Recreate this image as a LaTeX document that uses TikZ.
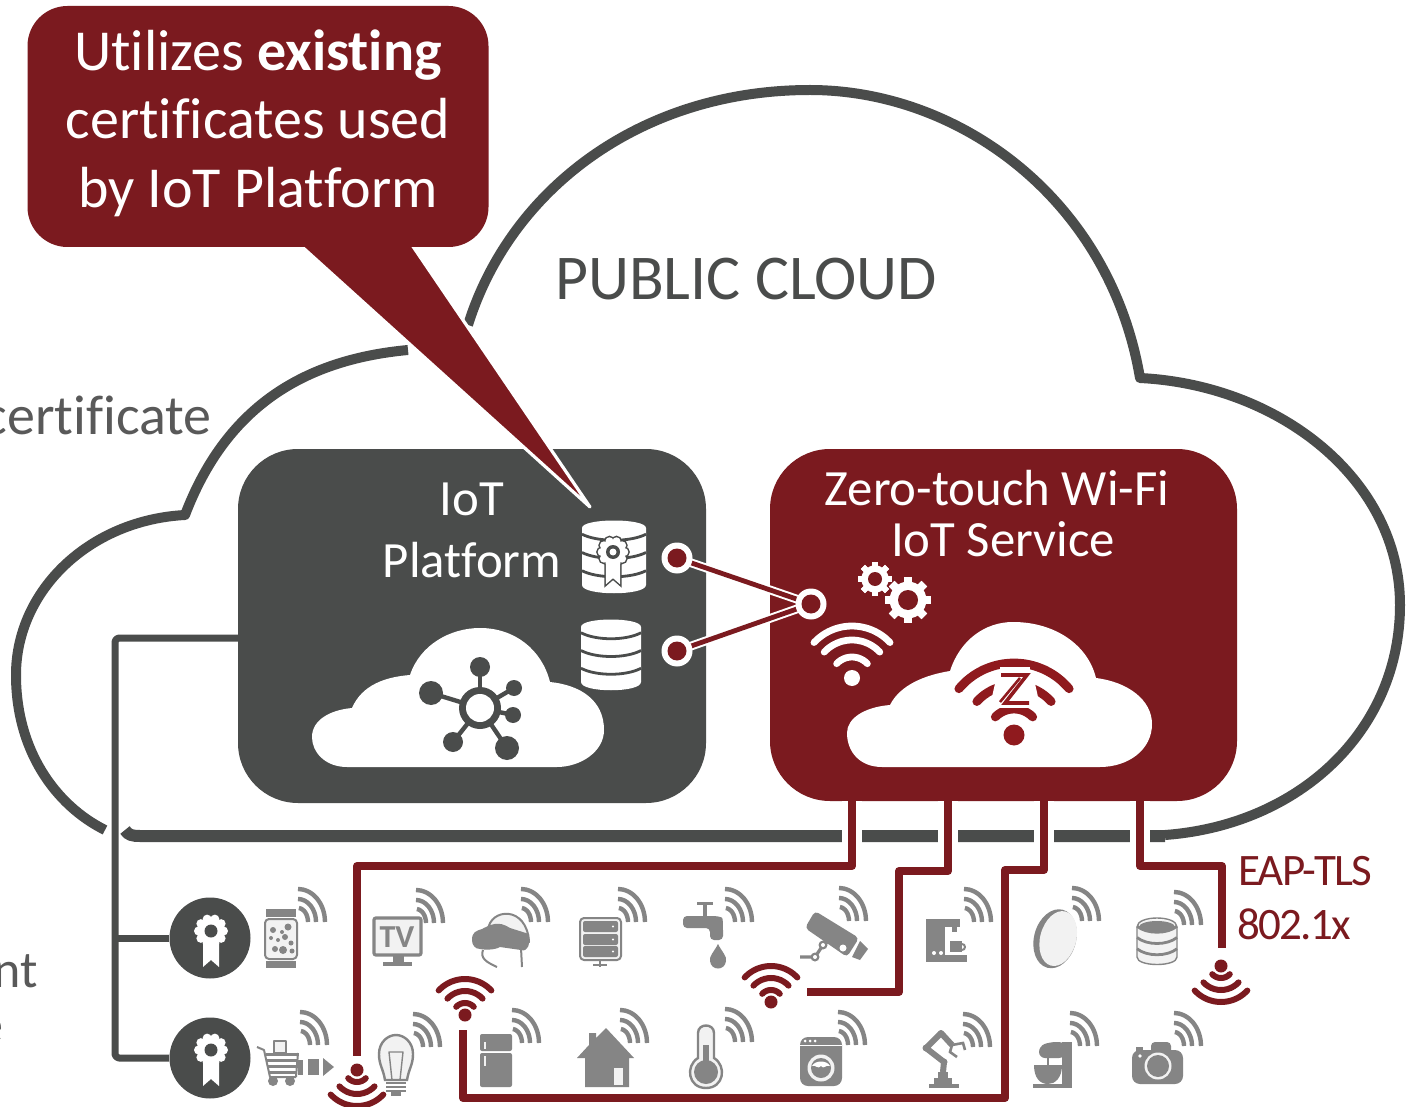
\documentclass[tikz,border=0pt]{standalone}
\usepackage{fontspec}
\setmainfont{Carlito}[Ligatures=NoCommon]
\definecolor{gdark}{HTML}{4A4C4B}
\definecolor{rdark}{HTML}{7B1A1F}
\definecolor{zred}{HTML}{8F1A1E}
\definecolor{ico}{HTML}{858585}
\definecolor{icol}{HTML}{F2F2F2}
\definecolor{ctext}{HTML}{595959}
\tikzset{
  cloudline/.style={draw=gdark,line width=5pt,line join=round},
  redwire/.style={draw=rdark,line width=4pt,line join=round},
  halo/.style={draw=white,line width=10pt},
  graywire/.style={draw=gdark,line width=3.5pt,line join=round},
  boxnode/.style={inner sep=0pt,outer sep=0pt,rounded corners=30pt,text width=0pt},
  whitetext/.style={text=white,inner sep=0pt,anchor=base,font=\fontsize{25.4}{25.4}\selectfont},
  calltext/.style={text=white,inner sep=0pt,anchor=base,font=\fontsize{29}{29}\selectfont},
  redlabel/.style={text=rdark,inner sep=0pt,anchor=base,font=\fontsize{22.5}{22.5}\selectfont\addfontfeatures{LetterSpace=-4}},
  graylabel/.style={text=ctext,inner sep=0pt,font=\fontsize{26}{26}\selectfont},
  sigline/.style={draw=ico,line width=2.2pt},
  iconline/.style={draw=ico,line width=1pt,line join=round},
}
% arc in pixel coordinates (y down)
\newcommand{\arcp}[6][]{\draw[#1] plot[smooth,samples=13,domain=#5:#6,variable=\ang] ({#2+#4*cos(\ang)},{#3+#4*sin(\ang)});}
% gray signal: left x, bottom y
\newcommand{\sigp}[2]{%
  \draw[sigline] plot[smooth,samples=9,domain=-90:0,variable=\ang] ({#1+27*cos(\ang)},{#2+33*sin(\ang)});
  \draw[sigline] plot[smooth,samples=9,domain=-90:0,variable=\ang] ({#1+18*cos(\ang)},{#2+23*sin(\ang)});
  \draw[sigline] plot[smooth,samples=9,domain=-85:0,variable=\ang] ({#1+10*cos(\ang)},{#2+14*sin(\ang)});}
% wifi: x,y,colour,dir,r1,r2,r3,dotr,width
\newcommand{\wifisym}[9]{%
  \fill[#3] (#1,#2) circle[radius=#8];
  \foreach \rr in {#5,#6,#7}{\arcp[draw=#3,line width=#9,line cap=round]{#1}{#2}{\rr}{#4-47}{#4+47}}}
% gear
\newcommand{\gearp}[7]{%
  \foreach \k in {1,...,#5}{\fill[#6,rotate around={\k*360/#5:(#1,#2)}] ({#1-#3*0.17},{#2-#3}) rectangle ({#1+#3*0.17},{#2+#3});}
  \fill[#6] (#1,#2) circle[radius={#3*0.8}];
  \fill[#7] (#1,#2) circle[radius=#4];}
% rosette with ribbon
\newcommand{\ribbonp}[4][]{%
  \begin{scope}[shift={(#2,#3)},scale=#4]
  \foreach \k in {0,36,...,324}{\path[#1] ({12.5*cos(\k)},{12.5*sin(\k)}) circle[radius=4.5];}
  \path[#1] (0,0) circle[radius=13];
  \path[#1] (-8,12) -- (8,12) -- (8,36) -- (0,29) -- (-8,36) -- cycle;
  \end{scope}}
% database
\newcommand{\dbp}[6]{%
  \fill[#5] ({#1-#3},{#2+8}) .. controls ({#1-#3},{#2-2}) and ({#1+#3},{#2-2}) .. ({#1+#3},{#2+8}) -- ({#1+#3},{#4-8}) .. controls ({#1+#3},{#4+3}) and ({#1-#3},{#4+3}) .. ({#1-#3},{#4-8}) -- cycle;
  \foreach \f in {0.25,0.5,0.75}{\draw[#6,line width=1.4pt] ({#1-#3},{#2+(#4-#2)*\f-4}) .. controls ({#1-#3*0.5},{#2+(#4-#2)*\f+4}) and ({#1+#3*0.5},{#2+(#4-#2)*\f+4}) .. ({#1+#3},{#2+(#4-#2)*\f-4});}}
\begin{document}
\begin{tikzpicture}[x=0.5pt,y=-0.5pt]
\useasboundingbox (0,0) rectangle (1409,1107);
\clip (0,0) rectangle (1409,1107);
\fill[white] (0,0) rectangle (1409,1107);

% ---- public cloud outline
\draw[cloudline] (1165,835) .. controls (1300,825) and (1400,730) .. (1400,605) .. controls (1400,480) and (1280,385) .. (1140,378) .. controls (1110,200) and (960,90) .. (810,90) .. controls (640,90) and (510,190) .. (468,325);
\draw[cloudline] (408,350) .. controls (300,360) and (225,410) .. (185,515) .. controls (90,520) and (16,590) .. (16,675) .. controls (16,750) and (55,805) .. (105,830);
\draw[cloudline,line width=6pt] (125,830) .. controls (128,835) and (132,836) .. (140,836) -- (1165,836);

\node[graylabel,anchor=base,text=gdark,font=\fontsize{31.9}{31.9}\selectfont] (publiccloud) at (746,300) {PUBLIC CLOUD};
\node[graylabel,anchor=base east,font=\fontsize{28}{28}\selectfont] (certificate) at (212,435) {certificate};
\node[graylabel,anchor=base east] (ntlabel) at (38,987) {nt};
\node[graylabel,anchor=base east] (elabel) at (4,1042) {e};

% ---- boxes
\node[boxnode,fill=gdark,minimum width=234pt,minimum height=177pt] (iotbox) at (472,626) {};
\node[boxnode,fill=rdark,minimum width=233.5pt,minimum height=176pt] (ztbox) at (1003.5,625) {};
\node[whitetext] (iot1) at (472,515) {IoT};
\node[whitetext] (iot2) at (472,577) {Platform};
\node[whitetext] (zt1) at (997,505) {Zero-touch Wi-Fi};
\node[whitetext] (zt2) at (1003,556) {IoT Service};

% ---- callout
\coordinate (tailL) at (300,245);
\coordinate (tailR) at (412,245);
\coordinate (tailTip) at (590,507);
\draw[draw=white,line width=1.6pt,line join=round,fill=rdark] (tailL) -- (tailTip) -- (tailR) -- cycle;
\node[boxnode,fill=rdark,minimum width=230.5pt,minimum height=120.5pt,rounded corners=20pt] (callout) at (258,126.5) {};
\node[calltext] (c1) at (258,71) {Utilizes \textbf{existing}};
\node[calltext] (c2) at (258,139) {certificates used};
\node[calltext] (c3) at (258,208) {by IoT Platform};

% ---- white clouds
\fill[white] (347,767) .. controls (325,767) and (312,752) .. (312,737) .. controls (312,720) and (330,710) .. (352,708) .. controls (362,685) and (385,677) .. (410,675) .. controls (420,645) and (450,628) .. (480,628) .. controls (515,628) and (542,650) .. (550,682) .. controls (580,685) and (604,700) .. (604,730) .. controls (604,752) and (580,767) .. (557,767) -- cycle;
\fill[white] (882,767) .. controls (860,767) and (847,752) .. (847,733) .. controls (847,718) and (865,707) .. (890,705) .. controls (900,685) and (925,675) .. (950,671) .. controls (960,640) and (985,622) .. (1013,622) .. controls (1055,622) and (1088,645) .. (1096,678) .. controls (1128,682) and (1152,700) .. (1152,724) .. controls (1152,750) and (1128,767) .. (1100,767) -- cycle;

% hub icon
\foreach \sx/\sy/\sr in {480/667/10,431/693/12,514/688/8,513/715/8,453/742/10,507/748/12}{
  \draw[gdark,line width=2.2pt] (480,708) -- (\sx,\sy);
  \fill[gdark] (\sx,\sy) circle[radius=\sr];}
\fill[gdark] (480,708) circle[radius=21];
\fill[white] (480,708) circle[radius=14];

% Z wifi
\foreach \rr/\ha in {72/50,50/48,26/46}{\arcp[draw=zred,line width=4.4pt,line cap=round]{1014}{735}{\rr}{270-\ha}{270+\ha}}
\fill[zred] (1014,735) circle[radius=10.5];
\fill[white] (1000,667) rectangle (1030,708);
\fill[white] (998,670) -- (1032,670) -- (1040,706) -- (990,706) -- cycle;
\draw[zred,line width=1.8pt,line join=miter] (1001,675) -- (1027,675) -- (1005,703) -- (1029,703);
\draw[zred,line width=1.3pt] (1020,678) -- (1000,702);

% gears and wifi in the service box
\gearp{875}{579}{17}{7}{8}{white}{rdark}
\gearp{908}{600}{23}{10}{8}{white}{rdark}
\wifisym{852}{678}{white}{270}{52}{38}{21}{8}{3.4pt}

% databases in the platform box
\dbp{614}{520}{32}{593}{white}{gdark}
\ribbonp[draw=gdark,fill=gdark,line width=1.5pt]{613}{552}{0.9}
\ribbonp[fill=white]{613}{552}{0.9}
\fill[gdark] (613,552) circle[radius=7];
\fill[white] (613,552) circle[radius=3.5];
\dbp{611}{619}{30}{690}{white}{gdark}

% ---- link between the services
\coordinate (dbA) at (677,558);
\coordinate (dbB) at (677,651);
\coordinate (wifiIn) at (811,604);
\draw[white,line width=4.4pt] (dbA) -- (wifiIn);
\draw[white,line width=4.4pt] (dbB) -- (wifiIn);
\draw[rdark,line width=2.4pt] (dbA) -- (wifiIn);
\draw[rdark,line width=2.4pt] (dbB) -- (wifiIn);
\fill[white] (dbA) circle[radius=15.5];
\fill[white] (dbB) circle[radius=15.5];
\fill[white] (wifiIn) circle[radius=15.5];
\fill[rdark] (dbA) circle[radius=9.5];
\fill[rdark] (dbB) circle[radius=9.5];
\fill[rdark] (wifiIn) circle[radius=9.5];

% ---- gray wires and badges
\coordinate (grayStart) at (238,638);
\coordinate (grayCorner) at (115,638);
\coordinate (grayMid) at (115,938);
\coordinate (grayEnd) at (115,1058);
\node[circle,fill=gdark,minimum size=40.5pt,inner sep=0pt] (badgeA) at (210,938) {};
\node[circle,fill=gdark,minimum size=40.5pt,inner sep=0pt] (badgeB) at (210,1058) {};
\draw[graywire,rounded corners=2pt] (grayStart) -- (grayCorner) -- (grayEnd) -- (badgeB);
\draw[graywire] (grayMid) -- (badgeA);
\ribbonp[fill=white]{211}{931}{1}
\fill[gdark] (211,931) circle[radius=6.5];
\ribbonp[fill=white]{211}{1050}{1}
\fill[gdark] (211,1050) circle[radius=6.5];

% ---- red wires
\coordinate (r1a) at (852,801); \coordinate (r1b) at (852,866); \coordinate (r1c) at (357,866); \coordinate (r1d) at (357,1056);
\coordinate (r2a) at (948,801); \coordinate (r2b) at (948,871); \coordinate (r2c) at (899,871); \coordinate (r2d) at (899,992); \coordinate (r2e) at (807,992);
\coordinate (r3a) at (1044,801); \coordinate (r3b) at (1044,870); \coordinate (r3c) at (1005,870); \coordinate (r3d) at (1005,1098); \coordinate (r3e) at (463,1098); \coordinate (r3f) at (463,1030);
\coordinate (r4a) at (1140,801); \coordinate (r4b) at (1140,866); \coordinate (r4c) at (1222,866); \coordinate (r4d) at (1222,948);
\foreach \cc in {r1,r2,r3,r4}{\draw[halo] (\cc a) -- (\cc b);}
\draw[redwire] (r1a) -- (r1b) -- (r1c) -- (r1d);
\draw[redwire] (r2a) -- (r2b) -- (r2c) -- (r2d) -- (r2e);
\draw[redwire] (r3a) -- (r3b) -- (r3c) -- (r3d) -- (r3e) -- (r3f);
\draw[redwire] (r4a) -- (r4b) -- (r4c) -- (r4d);
\node[redlabel] (eap) at (1305,885) {EAP-TLS};
\node[redlabel] (dotx) at (1294,939) {802.1x};

\wifisym{465}{1015}{rdark}{270}{36}{24}{12}{6.5}{3pt}
\wifisym{771}{1002}{rdark}{270}{36}{24}{12}{6.5}{3pt}
\wifisym{357}{1070}{rdark}{90}{36}{24}{12}{6.5}{3pt}
\wifisym{1221}{966}{rdark}{90}{36}{24}{12}{6.5}{3pt}

% ---- signals
\foreach \sx/\sy in {298/922,416/923,521/922,618/922,725/922,839/921,964/922,1072/921,1174/925,
                     300/1045,413/1047,512/1043,620/1043,725/1042,838/1045,963/1047,1070/1046,1174/1046}{\sigp{\sx}{\sy}}

% watch
\fill[ico] (266,909) rectangle (296,917);
\fill[ico] (266,961) rectangle (296,968);
\draw[iconline,fill=icol,rounded corners=2pt] (265,919) rectangle (297,959);
\foreach \dx/\dy/\dr in {273/930/3,282/932/2,288/927/3.5,271/938/2,278/940/2,285/937/3,291/943/2.5,275/949/3,283/950/4,292/951/2.5}{\fill[ico] (\dx,\dy) circle[radius=\dr];}

% TV
\draw[draw=ico,line width=1.6pt,fill=icol,rounded corners=1pt] (374,918) rectangle (421,955);
\node[text=ico,inner sep=0pt,font=\fontsize{16}{16}\selectfont\bfseries] (tv) at (397,937) {TV};
\fill[ico] (393,955) rectangle (404,963);
\fill[ico] (383,962) rectangle (412,966);

% VR
\draw[iconline,fill=icol] (488,930) .. controls (490,908) and (527,905) .. (529,942) -- (500,942) -- cycle;
\fill[ico] (472,940) .. controls (472,932) and (476,931) .. (482,929) .. controls (490,925) and (498,920) .. (510,928) -- (529,934) .. controls (530,945) and (528,952) .. (521,950) -- (500,947) .. controls (495,950) and (485,950) .. (480,949) .. controls (475,949) and (472,945) .. (472,940) -- cycle;
\draw[iconline] (483,950) .. controls (480,958) and (486,962) .. (497,967);
\draw[iconline] (521,948) -- (522,967);

% server
\draw[iconline,fill=icol,rounded corners=2pt] (580,918) rectangle (621,960);
\foreach \yy in {921,934,946}{\fill[ico,rounded corners=1pt] (583,\yy) rectangle (618,{\yy+11}); \fill[white] (613,{\yy+5.5}) circle[radius=1.2];}
\draw[iconline] (600,960) -- (600,967);
\draw[iconline] (593,965) -- (607,965);

% faucet
\fill[ico] (703,905) rectangle (707,916);
\fill[ico] (697,902) rectangle (713,905);
\fill[ico,rounded corners=2pt] (683,928) -- (683,916) -- (718,916) .. controls (723,918) and (723,922) .. (723,940) -- (710,940) -- (710,928) -- cycle;
\fill[ico] (718,944) .. controls (714,952) and (709,956) .. (710,961) .. controls (711,971) and (725,971) .. (726,961) .. controls (727,956) and (722,952) .. (718,944) -- cycle;

% CCTV
\fill[ico,rounded corners=2pt] (815,911) -- (859,938) -- (847,957) -- (805,928) -- cycle;
\fill[ico] (860,941) -- (868,949) -- (860,960) -- (852,957) -- cycle;
\fill[white] (843,948) circle[radius=3.5];
\draw[ico,line width=1.6pt] (800,957) -- (815,957) -- (823,945) -- (830,940);
\fill[ico] (815,957) circle[radius=4.5];
\fill[ico] (823,945) circle[radius=4.5];
\fill[white] (815,957) circle[radius=2];
\fill[white] (823,945) circle[radius=2];

% coffee machine
\fill[ico] (926,919) rectangle (945,962);
\fill[ico] (926,919) rectangle (960,927);
\fill[ico] (926,955) rectangle (967,962);
\fill[ico] (952,925) rectangle (957,932);
\fill[ico] (950,941) rectangle (962,952);
\draw[iconline] (962,944) arc[start angle=-90,end angle=90,radius=3];
\fill[white] (934,953) circle[radius=2];
\fill[white] (941,953) circle[radius=2];

% disc
\fill[ico,rotate around={-15:(1056,939)}] (1055,939) ellipse[x radius=21,y radius=30];
\fill[icol,rotate around={-15:(1056,939)}] (1058,938) ellipse[x radius=18,y radius=28];

% db gray
\dbp{1157}{919}{20}{964}{icol}{ico}
\draw[draw=ico,line width=.7pt] (1137,927) .. controls (1137,915) and (1177,915) .. (1177,927) -- (1177,957) .. controls (1177,967) and (1137,967) .. (1137,957) -- cycle;
\fill[ico] (1157,927) ellipse[x radius=18,y radius=6];

% cart
\draw[iconline,line width=1pt] (257,1047) -- (264,1050) -- (270,1077) -- (296,1077);
\fill[ico] (266,1053) rectangle (299,1056);
\draw[ico,line width=1.5pt] (267,1060) -- (298,1060);
\draw[ico,line width=1.5pt] (268,1066) -- (297,1066);
\draw[ico,line width=1.5pt] (269,1072) -- (296,1072);
\draw[ico,line width=1pt] (298,1053) -- (296,1077);
\draw[iconline,fill=icol] (274,1041) rectangle (286,1053);
\fill[ico] (273,1081) circle[radius=5];
\fill[ico] (290,1081) circle[radius=5];
\fill[ico] (298,1060) -- (303,1060) -- (303,1075) -- (298,1075) -- cycle;
\fill[ico] (308,1059) rectangle (319,1075);
\fill[ico] (323,1058) -- (334,1067) -- (323,1076) -- cycle;

% bulb
\draw[draw=ico,line width=1.2pt,fill=icol] (385,1080) .. controls (383,1068) and (379,1065) .. (379,1054) .. controls (379,1042) and (388,1035) .. (396,1035) .. controls (404,1035) and (413,1042) .. (413,1054) .. controls (413,1065) and (409,1068) .. (407,1080) -- cycle;
\draw[iconline,line width=.7pt] (389,1052) -- (403,1052) -- (400,1080) -- (392,1080) -- cycle;
\foreach \yy in {1083,1087,1091}{\draw[ico,line width=1.3pt] (386,\yy) -- (406,\yy);}
\fill[ico] (391,1092) rectangle (401,1096);

% fridge
\fill[ico,rounded corners=1pt] (480,1034) rectangle (512,1051);
\fill[ico,rounded corners=1pt] (480,1053) rectangle (512,1087);
\fill[icol] (484,1042) rectangle (486,1049);
\fill[icol] (484,1056) rectangle (486,1066);

% house
\fill[ico] (606,1028) -- (634,1058) -- (629,1058) -- (629,1087) -- (585,1087) -- (585,1058) -- (577,1058) -- (589,1045) -- (589,1033) -- (596,1033) -- (596,1038) -- cycle;
\fill[icol] (614,1068) rectangle (623,1085);

% thermometer
\draw[draw=ico,line width=1.2pt,fill=icol] (698,1058) -- (698,1033) .. controls (698,1023) and (714,1023) .. (714,1033) -- (714,1058) .. controls (727,1066) and (724,1088) .. (706,1088) .. controls (688,1088) and (685,1066) .. (698,1058) -- cycle;
\fill[ico] (703,1045) rectangle (709,1065);
\fill[ico] (706,1072) circle[radius=12];

% washer
\fill[ico,rounded corners=4pt] (800,1037) rectangle (842,1086);
\fill[white] (800,1045) rectangle (842,1046);
\foreach \xx in {805,810,815}{\fill[white] (\xx,1041) circle[radius=1.5];}
\fill[icol] (821,1068) circle[radius=13.5];
\fill[ico] (821,1068) circle[radius=10];
\fill[white] (812,1066) .. controls (815,1060) and (827,1060) .. (830,1066) .. controls (826,1064) and (824,1070) .. (821,1066) .. controls (818,1070) and (815,1064) .. (812,1066) -- cycle;

% robot
\fill[ico] (929,1084) rectangle (959,1088);
\fill[ico] (934,1078) rectangle (952,1084);
\fill[ico] (938,1072) rectangle (948,1078);
\draw[ico,line width=3pt,line join=round] (943,1072) -- (944,1062) -- (926,1048) -- (941,1033) -- (952,1045);
\fill[ico] (926,1048) circle[radius=3.5];
\fill[ico] (944,1062) circle[radius=3.5];
\fill[ico] (941,1034) circle[radius=3.5];
\draw[ico,line width=1.3pt] (952,1045) -- (963,1043) -- (965,1050);
\draw[ico,line width=1.3pt] (952,1045) -- (950,1052) -- (957,1057);

% mixer
\fill[ico] (1062,1042) rectangle (1072,1088);
\fill[ico,rounded corners=3pt] (1039,1058) -- (1039,1046) -- (1050,1042) -- (1065,1042) -- (1065,1058) -- cycle;
\fill[ico] (1034,1065) -- (1062,1065) .. controls (1062,1078) and (1055,1084) .. (1048,1084) .. controls (1040,1084) and (1034,1078) .. (1034,1065) -- cycle;
\fill[ico] (1033,1084) rectangle (1072,1088);
\draw[iconline] (1048,1058) -- (1048,1065);

% photo camera
\fill[ico,rounded corners=4pt] (1132,1050) rectangle (1183,1084);
\fill[ico,rounded corners=2pt] (1151,1042) rectangle (1171,1054);
\fill[ico] (1136,1047) rectangle (1143,1052);
\fill[white] (1140,1056) circle[radius=1.8];
\fill[icol] (1158,1066) circle[radius=13.5];
\fill[ico] (1158,1066) circle[radius=11];
\end{tikzpicture}
\end{document}
